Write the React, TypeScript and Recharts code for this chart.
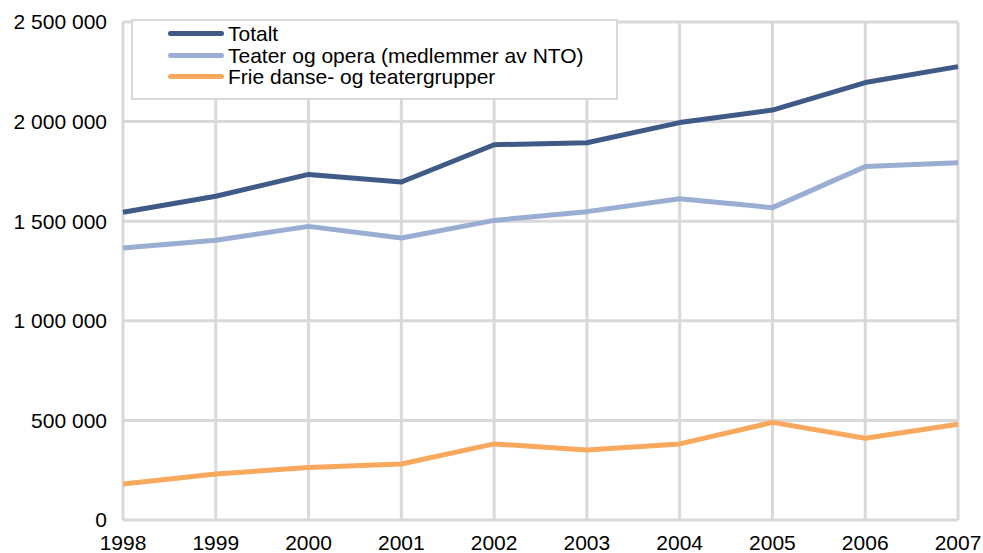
import { CartesianGrid, Line, LineChart, XAxis, YAxis } from 'recharts'

const years = ['1998', '1999', '2000', '2001', '2002', '2003', '2004', '2005', '2006', '2007']
const totalt = [1545000, 1625000, 1735000, 1697000, 1884000, 1894000, 1995000, 2058000, 2196000, 2276000]
const teater = [1365000, 1404000, 1474000, 1416000, 1504000, 1548000, 1613000, 1568000, 1774000, 1794000]
const frie = [181000, 231000, 264000, 281000, 382000, 352000, 382000, 490000, 410000, 481000]
const yTicks = [0, 500000, 1000000, 1500000, 2000000, 2500000]

const series = [
  { key: 'totalt', name: 'Totalt', color: '#3f5a87' },
  { key: 'teater', name: 'Teater og opera (medlemmer av NTO)', color: '#9aaed3' },
  { key: 'frie', name: 'Frie danse- og teatergrupper', color: '#f8a95e' },
]

const data = years.map((year, i) => ({ year, totalt: totalt[i], teater: teater[i], frie: frie[i] }))

const font = 'Liberation Sans, Arial, sans-serif'
const tick = { fill: '#000', fontSize: 21, fontFamily: font }

// space thousands separator, as in the Norwegian original
const fmt = (v: number) => String(v).replace(/\B(?=(\d{3})+(?!\d))/g, ' ')

function LegendBox() {
  return (
    <div
      style={{
        position: 'absolute',
        left: 131,
        top: 19,
        width: 487,
        height: 81,
        border: '2px solid #d9d9d9',
        background: '#fff',
        fontFamily: font,
        fontSize: 21,
        paddingTop: 2,
        boxSizing: 'border-box',
      }}
    >
      {series.map((s) => (
        <div key={s.key} style={{ display: 'flex', alignItems: 'center', height: 21.5 }}>
          <div style={{ width: 56, height: 5, borderRadius: 3, background: s.color, marginLeft: 35, marginRight: 4 }} />
          <span style={{ color: '#000', lineHeight: '21px' }}>{s.name}</span>
        </div>
      ))}
    </div>
  )
}

export default function App() {
  return (
    <div style={{ position: 'absolute', left: 0, top: 0, width: 983, height: 553, background: '#fff' }}>
      <LineChart width={983} height={553} data={data} margin={{ top: 22, right: 25, left: 0, bottom: 0 }}>
        <CartesianGrid stroke="#d9d9d9" strokeWidth={3} />
        <XAxis
          dataKey="year"
          tick={tick}
          tickLine={false}
          axisLine={false}
          tickSize={0}
          tickMargin={15}
          height={33}
          padding={{ left: 0, right: 0 }}
          interval={0}
        />
        <YAxis
          domain={[0, 2500000]}
          ticks={yTicks}
          tick={tick}
          tickFormatter={fmt}
          tickLine={false}
          axisLine={false}
          tickSize={0}
          tickMargin={16}
          width={123}
        />
        {series.map((s) => (
          <Line
            key={s.key}
            type="linear"
            dataKey={s.key}
            name={s.name}
            stroke={s.color}
            strokeWidth={5}
            strokeLinejoin="round"
            dot={false}
            activeDot={false}
            isAnimationActive={false}
          />
        ))}
      </LineChart>
      <LegendBox />
    </div>
  )
}
